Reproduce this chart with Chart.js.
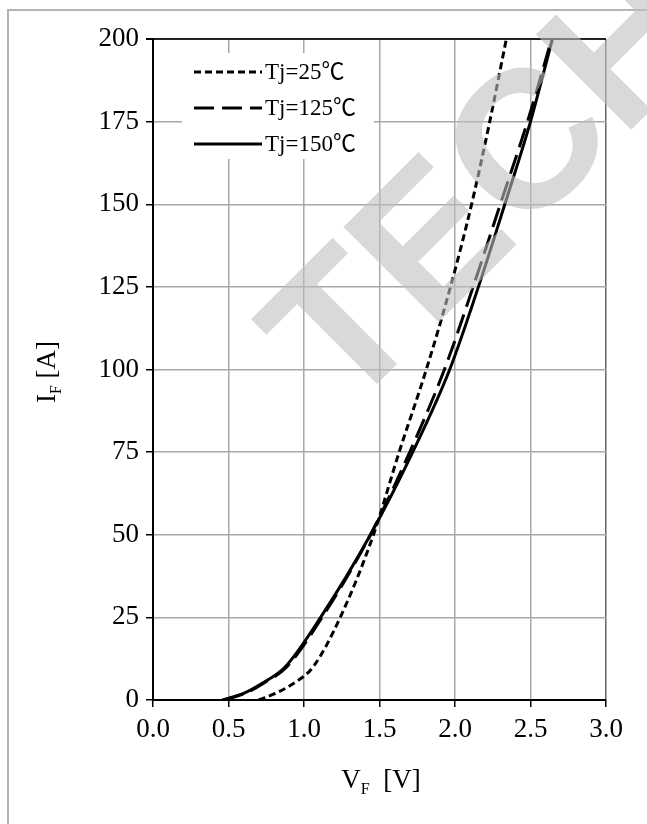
<!DOCTYPE html>
<html>
<head>
<meta charset="utf-8">
<script src="https://cdn.jsdelivr.net/npm/chart.js@4/dist/chart.umd.min.js"></script>
<style>
  html, body { margin: 0; padding: 0; background: #fff; overflow: hidden; }
  #wrap { position: relative; width: 647px; height: 824px; }
  #frame { position: absolute; left: 7px; top: 9px; width: 700px; height: 900px; border: 2px solid #b4b4b4; box-sizing: border-box; }
  canvas { position: absolute; left: 0; top: 0; }
</style>
</head>
<body>
<div id="wrap">
  <div id="frame"></div>
  <canvas id="chart" width="647" height="824"></canvas>
</div>
<script>
// forward current (A) at each point, shared by all curves
const currents = [0, 2, 5, 10, 25, 50, 75, 100, 125, 150, 175, 200];
// forward voltage (V) per junction temperature
const vf25  = [0.70, 0.81, 0.93, 1.06, 1.24, 1.46, 1.63, 1.81, 1.97, 2.11, 2.23, 2.34];
const vf125 = [0.47, 0.61, 0.73, 0.885, 1.12, 1.44, 1.70, 1.93, 2.12, 2.30, 2.48, 2.64];
const vf150 = [0.46, 0.60, 0.72, 0.875, 1.11, 1.44, 1.72, 1.965, 2.155, 2.33, 2.50, 2.645];
const labels = ['Tj=25℃', 'Tj=125℃', 'Tj=150℃'];
const xTicks = [0, 0.5, 1.0, 1.5, 2.0, 2.5, 3.0];
const yTicks = [0, 25, 50, 75, 100, 125, 150, 175, 200];

const serif = "'Liberation Serif', 'Noto Sans CJK SC', serif";

function pts(vs) {
  return vs.map((v, i) => ({ x: v, y: currents[i] }));
}

function series(label, vs, dash) {
  return {
    label: label,
    data: pts(vs),
    borderColor: '#000',
    borderWidth: 3,
    borderDash: dash,
    pointRadius: 0,
    fill: false,
    showLine: true,
    cubicInterpolationMode: 'monotone'
  };
}

// legend, axis titles (with subscripts) and the watermark
const overlay = {
  id: 'overlay',
  afterDraw(chart) {
    const ctx = chart.ctx;
    ctx.save();

    // legend box
    ctx.fillStyle = '#fff';
    ctx.fillRect(182, 53, 192, 106);
    chart.data.datasets.forEach((ds, i) => {
      const y = 72 + i * 36;
      ctx.strokeStyle = '#000';
      ctx.lineWidth = 3;
      ctx.setLineDash(ds.borderDash || []);
      ctx.beginPath();
      ctx.moveTo(194, y);
      ctx.lineTo(262, y);
      ctx.stroke();
      ctx.setLineDash([]);
      ctx.fillStyle = '#000';
      ctx.font = '23px ' + serif;
      ctx.textAlign = 'left';
      ctx.textBaseline = 'middle';
      ctx.fillText(ds.label, 265, y + 1);
    });

    // x title
    const big = '27px ' + serif, small = '16px ' + serif;
    ctx.textBaseline = 'alphabetic';
    ctx.textAlign = 'left';
    ctx.font = big; const wV = ctx.measureText('V').width;
    ctx.font = small; const wF = ctx.measureText('F').width;
    ctx.font = big; const wU = ctx.measureText('  [V]').width;
    let x0 = 381 - (wV + wF + wU) / 2;
    const by = 788;
    ctx.font = big; ctx.fillText('V', x0, by);
    ctx.font = small; ctx.fillText('F', x0 + wV, by + 6);
    ctx.font = big; ctx.fillText('  [V]', x0 + wV + wF, by);

    // y title
    ctx.save();
    ctx.translate(55, 372);
    ctx.rotate(-Math.PI / 2);
    ctx.font = big; const wI = ctx.measureText('I').width;
    ctx.font = small; const wF2 = ctx.measureText('F').width;
    ctx.font = big; const wA = ctx.measureText(' [A]').width;
    x0 = -(wI + wF2 + wA) / 2;
    ctx.font = big; ctx.fillText('I', x0, 0);
    ctx.font = small; ctx.fillText('F', x0 + wI, 6);
    ctx.font = big; ctx.fillText(' [A]', x0 + wI + wF2, 0);
    ctx.restore();

    // watermark
    ctx.save();
    ctx.translate(484, 178);
    ctx.rotate(-Math.PI / 4);
    ctx.font = "bold 196px 'Liberation Sans', sans-serif";
    ctx.fillStyle = 'rgba(190,190,190,0.59)';
    ctx.textAlign = 'center';
    ctx.textBaseline = 'alphabetic';
    ctx.fillText('TECH', 0, 70);
    ctx.restore();

    ctx.restore();
  }
};

const ctx = document.getElementById('chart').getContext('2d');

new Chart(ctx, {
  type: 'scatter',
  data: {
    datasets: [
      series(labels[0], vf25, [7, 4]),
      series(labels[1], vf125, [20, 8]),
      series(labels[2], vf150, [])
    ]
  },
  options: {
    responsive: false,
    animation: false,
    layout: { padding: { top: 39, right: 41, left: 0, bottom: 0 } },
    plugins: {
      legend: { display: false },
      tooltip: { enabled: false }
    },
    scales: {
      x: {
        type: 'linear',
        min: 0,
        max: 3,
        afterBuildTicks: (s) => { s.ticks = xTicks.map(v => ({ value: v })); },
        afterFit: (s) => { s.height = 124; },
        ticks: {
          color: '#000',
          font: { family: serif, size: 27 },
          padding: 7,
          maxRotation: 0,
          callback: (v) => Number(v).toFixed(1)
        },
        grid: {
          color: (c) => (c.tick && c.tick.value === 3) ? '#666' : '#a8a8a8',
          lineWidth: 1.5,
          tickLength: 7,
          tickColor: '#000'
        },
        border: { color: '#000', width: 2 }
      },
      y: {
        type: 'linear',
        min: 0,
        max: 200,
        afterBuildTicks: (s) => { s.ticks = yTicks.map(v => ({ value: v })); },
        afterFit: (s) => { s.width = 153; },
        ticks: {
          color: '#000',
          font: { family: serif, size: 27 },
          padding: 7
        },
        grid: {
          color: (c) => (c.tick && c.tick.value === 200) ? '#222' : '#a8a8a8',
          lineWidth: (c) => (c.tick && c.tick.value === 200) ? 2 : 1.5,
          tickLength: 7,
          tickColor: '#000'
        },
        border: { color: '#000', width: 2 }
      }
    }
  },
  plugins: [overlay]
});
</script>
</body>
</html>
